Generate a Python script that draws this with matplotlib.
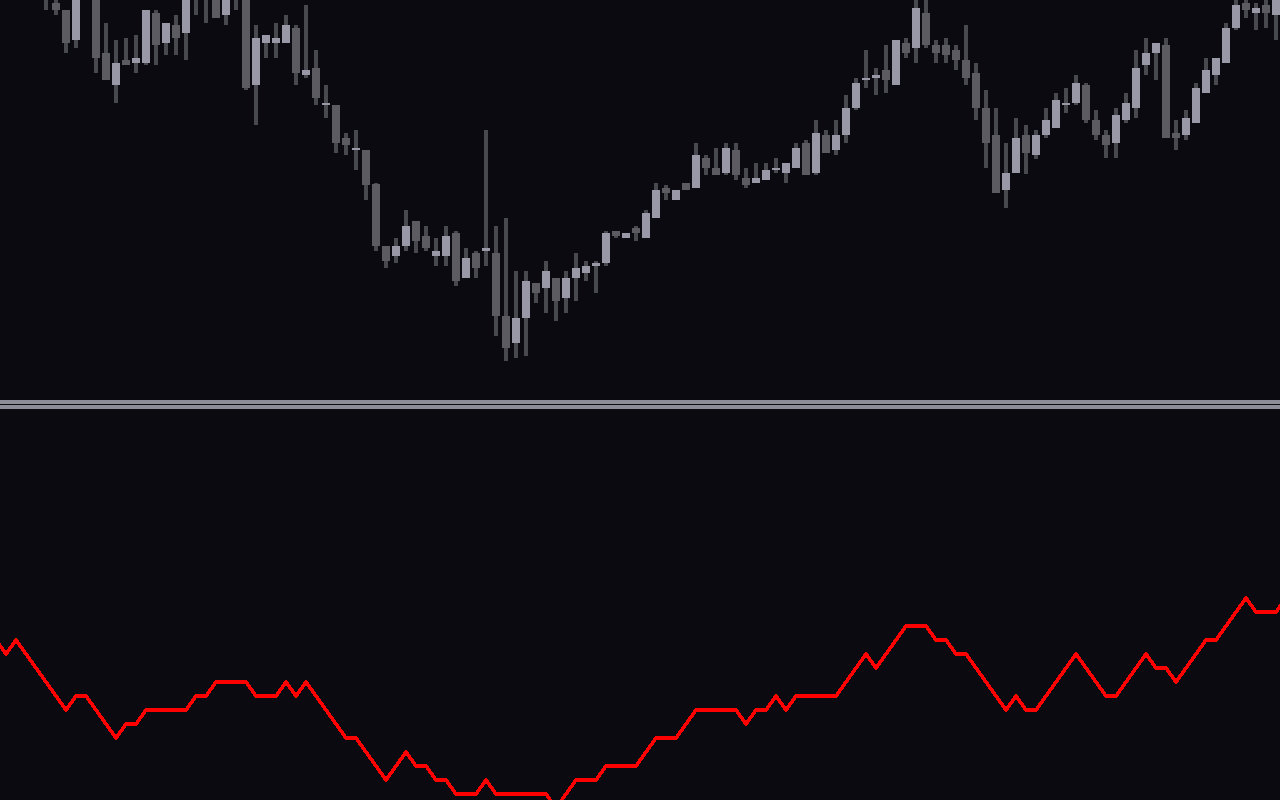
import matplotlib.pyplot as plt
from matplotlib.lines import Line2D
import numpy as np

opens = [430, 425, 415, 420, 410, 412, 397, 390, 360, 430, 405, 347, 315, 340, 337, 337,
         387, 357, 375, 367, 420, 415, 405, 385, 420, 405, 315, 357, 357, 357, 372, 325,
         332, 295, 295, 262, 250, 250, 216, 154, 144, 154, 179, 164, 144, 144, 167, 122,
         147, 149, 147, 84, 57, 82, 117, 112, 122, 102, 122, 127, 134, 137, 169, 162,
         172, 162, 182, 212, 200, 217, 212, 242, 232, 227, 250, 222, 217, 220, 230, 227,
         232, 257, 227, 265, 250, 265, 292, 320, 322, 330, 315, 357, 352, 387, 355, 355,
         350, 340, 327, 292, 265, 210, 227, 265, 245, 265, 272, 295, 297, 315, 280, 265,
         257, 280, 292, 335, 347, 355, 267, 265, 277, 307, 325, 337, 372, 397, 387, 395,
         385, 403]
highs = [440, 435, 430, 430, 425, 420, 405, 390, 408, 440, 410, 377, 360, 362, 365, 390,
         390, 377, 385, 408, 425, 420, 410, 410, 425, 410, 375, 365, 377, 385, 375, 395,
         350, 315, 295, 267, 270, 250, 217, 154, 162, 190, 179, 174, 162, 174, 169, 152,
         149, 270, 174, 182, 129, 129, 117, 139, 122, 129, 147, 139, 139, 169, 169, 167,
         174, 190, 217, 215, 210, 217, 257, 245, 252, 257, 257, 232, 237, 237, 242, 237,
         257, 260, 280, 270, 280, 305, 322, 350, 332, 355, 360, 362, 403, 403, 360, 362,
         355, 375, 337, 310, 292, 257, 282, 275, 270, 292, 307, 312, 325, 317, 290, 270,
         292, 307, 350, 362, 357, 362, 280, 290, 317, 342, 342, 377, 403, 403, 397, 403,
         408, 415]
lows = [410, 405, 405, 403, 402, 390, 385, 347, 352, 402, 327, 320, 297, 335, 327, 335,
        335, 345, 345, 340, 385, 377, 382, 375, 390, 310, 275, 342, 342, 357, 315, 322,
        295, 282, 247, 245, 230, 200, 149, 132, 137, 149, 147, 149, 134, 134, 114, 122,
        122, 134, 64, 39, 42, 44, 97, 87, 79, 87, 99, 119, 107, 134, 162, 162,
        159, 162, 182, 200, 200, 210, 212, 225, 225, 225, 220, 212, 217, 220, 227, 217,
        232, 225, 225, 247, 245, 257, 290, 312, 305, 307, 315, 342, 337, 352, 337, 337,
        330, 315, 280, 232, 207, 192, 227, 226, 241, 262, 272, 287, 295, 277, 260, 242,
        242, 277, 282, 325, 320, 262, 250, 260, 277, 307, 315, 337, 370, 382, 370, 372,
        360, 395]
closes = [420, 415, 420, 410, 418, 402, 390, 357, 403, 410, 342, 320, 337, 335, 342, 390,
          355, 377, 362, 403, 405, 402, 382, 405, 403, 312, 362, 365, 362, 375, 327, 330,
          302, 297, 257, 255, 252, 215, 154, 139, 154, 174, 159, 152, 149, 164, 119, 142,
          132, 152, 84, 52, 82, 119, 107, 129, 99, 122, 132, 134, 137, 167, 164, 167,
          167, 187, 210, 207, 210, 210, 245, 232, 225, 252, 225, 215, 222, 230, 232, 237,
          252, 225, 267, 247, 265, 292, 317, 322, 325, 320, 360, 347, 392, 355, 347, 345,
          340, 322, 292, 257, 207, 227, 262, 247, 265, 280, 300, 297, 317, 280, 265, 255,
          285, 297, 332, 347, 357, 262, 262, 282, 312, 330, 342, 372, 395, 390, 392, 387,
          403, 410]
indicator = [3, 2, 3, 2, 1, 0, -1, -2, -1, -1, -2, -3, -4, -3, -3, -2,
             -2, -2, -2, -2, -1, -1, 0, 0, 0, 0, -1, -1, -1, 0, -1, 0,
             -1, -2, -3, -4, -4, -5, -6, -7, -6, -5, -6, -6, -7, -7, -8, -8,
             -8, -7, -8, -8, -8, -8, -8, -8, -9, -8, -7, -7, -7, -6, -6, -6,
             -6, -5, -4, -4, -4, -3, -2, -2, -2, -2, -2, -3, -2, -2, -1, -2,
             -1, -1, -1, -1, -1, 0, 1, 2, 1, 2, 3, 4, 4, 4, 3, 3,
             2, 2, 1, 0, -1, -2, -1, -2, -2, -1, 0, 1, 2, 1, 0, -1,
             -1, 0, 1, 2, 1, 1, 0, 1, 2, 3, 3, 4, 5, 6, 5, 5,
             5, 6]

bg = '#0a0a10'
up_col = '#9898a6'
down_col = '#5b5b61'
wick_col = '#48484f'

o = np.array(opens)
c = np.array(closes)
bars = np.arange(len(opens)) - 1
rising = c >= o

fig = plt.figure(figsize=(12.8, 8), dpi=100, facecolor=bg)
ax_price = fig.add_axes([0, 0.5, 1, 0.5])
ax_ind = fig.add_axes([0, 0, 1, 0.49])

ax_price.vlines(bars, lows, highs, color=wick_col, lw=1.6, antialiased=False, zorder=1)
ax_price.bar(bars[rising], (c - o)[rising], bottom=o[rising], width=0.72,
             color=up_col, linewidth=0, antialiased=False, zorder=2)
ax_price.bar(bars[~rising], (c - o)[~rising], bottom=o[~rising], width=0.72,
             color=down_col, linewidth=0, antialiased=False, zorder=2)
ax_price.set_xlim(-0.6, 127.4)
ax_price.set_ylim(0, 400)

ax_ind.plot(bars, indicator, color='#ff0000', lw=1.6, antialiased=False)
ax_ind.set_xlim(-0.6, 127.4)
ax_ind.set_ylim(-118 / 14, 274 / 14)

for ax in (ax_price, ax_ind):
    ax.set_facecolor(bg)
    ax.set_axis_off()

for y in (1 - 402 / 800, 1 - 407 / 800):
    fig.add_artist(Line2D([0, 1], [y, y], transform=fig.transFigure,
                          color='#8c8c98', lw=1.5, antialiased=False))

fig.savefig('out.png', dpi=100, facecolor=bg)
